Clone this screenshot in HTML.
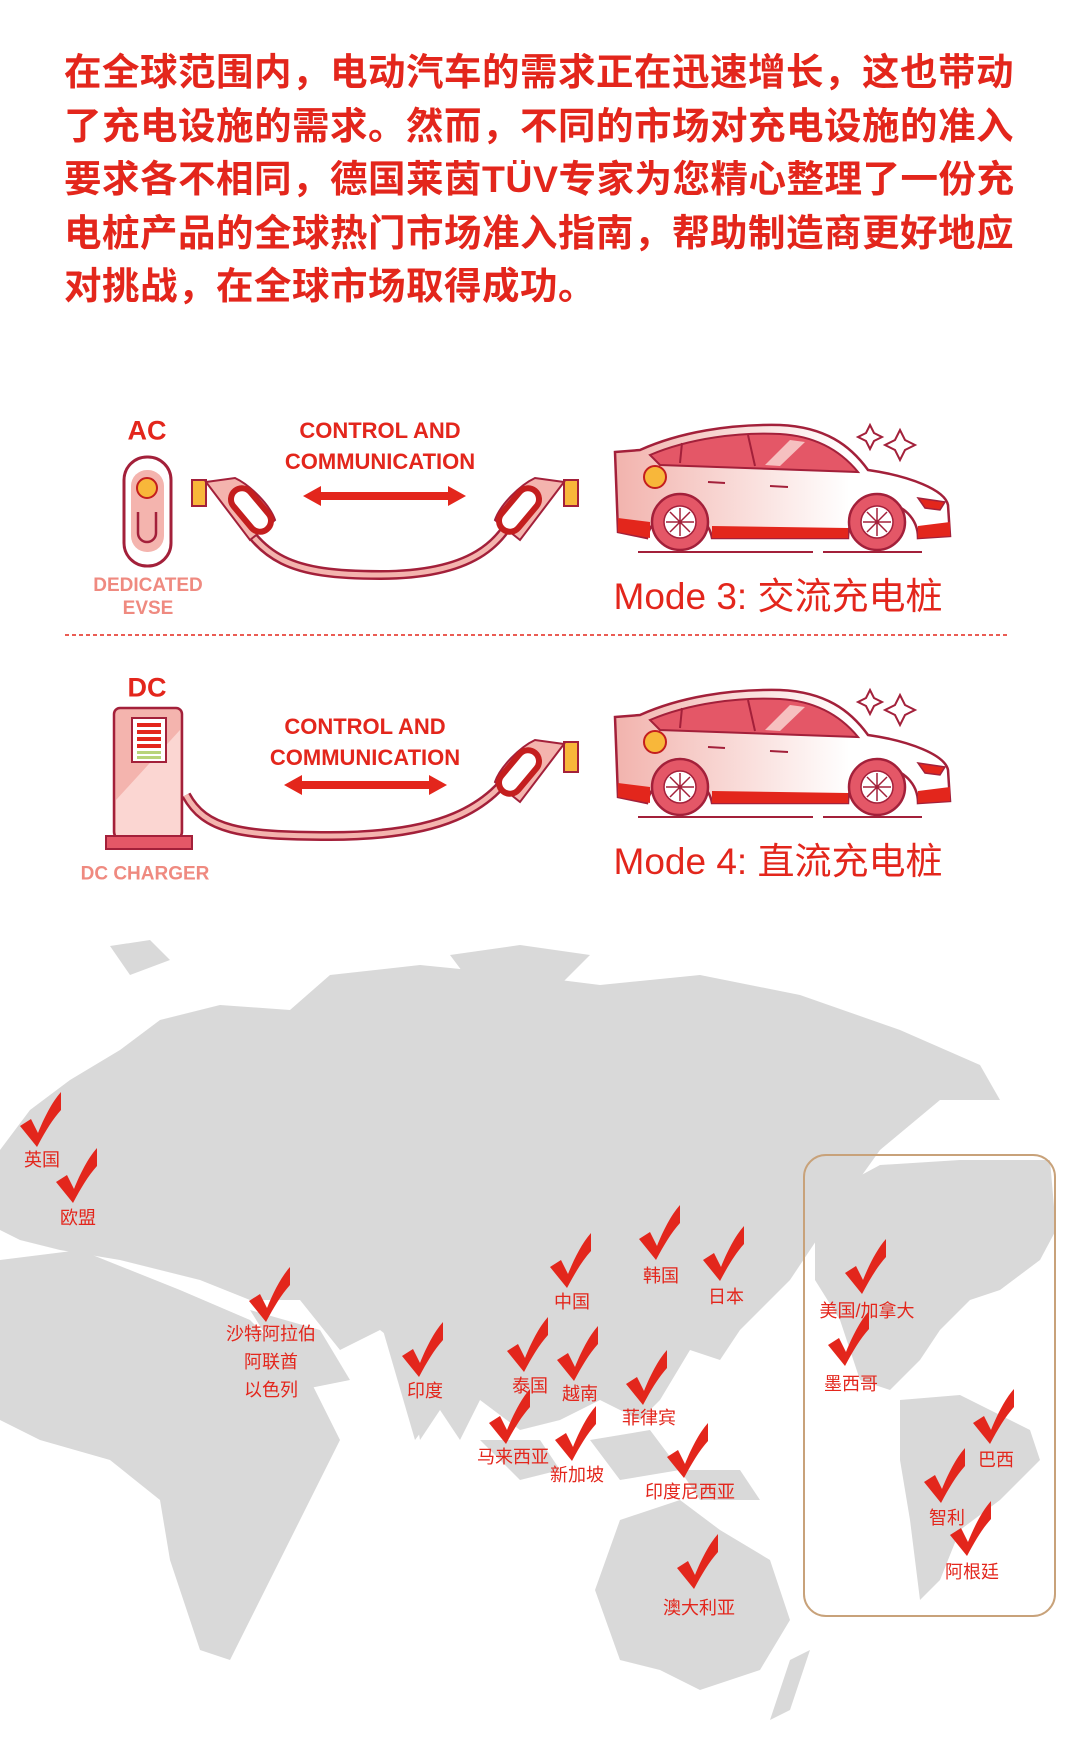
<!DOCTYPE html>
<html><head><meta charset="utf-8"><style>
body{margin:0;background:#fff;}
#c{position:relative;width:1080px;height:1751px;overflow:hidden;font-family:"Liberation Sans","Noto Sans CJK SC",sans-serif;}
.intro{position:absolute;left:64px;top:46px;width:960px;font-size:37.5px;line-height:53.5px;font-weight:bold;color:#e3261c;font-family:"Liberation Sans","Noto Sans CJK SC",sans-serif;letter-spacing:0.5px;}
.t{position:absolute;transform:translate(-50%,-50%);white-space:nowrap;}
.big{font-weight:bold;color:#e3261c;font-size:27px;}
.cc{font-weight:900;color:#e3261c;font-size:22px;line-height:31px;text-align:center;}
.sub{font-weight:bold;color:#ef8a80;font-size:19px;line-height:23px;text-align:center;}
.mode{color:#e3261c;font-size:37px;}
.lb{color:#e3261c;font-size:18px;line-height:28px;text-align:center;}
</style></head><body><div id="c">
<div class="intro">在全球范围内，电动汽车的需求正在迅速增长，这也带动了充电设施的需求。然而，不同的市场对充电设施的准入要求各不相同，德国莱茵TÜV专家为您精心整理了一份充电桩产品的全球热门市场准入指南，帮助制造商更好地应对挑战，在全球市场取得成功。</div>

<svg width="1080" height="1751" style="position:absolute;left:0;top:0">
<defs>
<linearGradient id="g1" x1="0" x2="1"><stop offset="0" stop-color="#f2b3ad"/><stop offset="0.7" stop-color="#fff"/></linearGradient>
<g id="car">
 <path d="M15,42 L40,40 C80,22 130,14 180,15 C225,17 250,35 268,60 C310,66 345,80 348,95 L350,126 L318,128 A33,33 0 0 0 248,128 L112,128 A33,33 0 0 0 47,128 L18,122 Z" fill="url(#g1)" stroke="#a3203a" stroke-width="2.5"/>
 <path d="M18,108 L50,112 L50,128 L18,122Z M112,116 L248,118 L248,128 L112,128Z M318,116 L350,112 L350,126 L318,128Z" fill="#e3261c"/>
 <path d="M50,45 C90,28 140,22 180,24 C215,26 240,40 258,62 L60,55 Z" fill="#e45767" stroke="#a3203a" stroke-width="2"/>
 <path d="M82,33 L80,53 M148,25 L155,56" stroke="#a3203a" stroke-width="2"/>
 <path d="M165,55 L190,30 L205,32 L180,56Z" fill="#f6c0c0"/>
 <path d="M108,72 L125,73 M170,76 L188,77" stroke="#a3203a" stroke-width="2"/>
 <circle cx="55" cy="67" r="11" fill="#f8b73a" stroke="#c41e1e" stroke-width="2"/>
 <path d="M318,88 L345,92 L340,100 L325,98Z" fill="#e3261c" stroke="#a3203a" stroke-width="1.5"/>
 <g stroke="#a3203a" stroke-width="2.5" fill="#e45767"><circle cx="80" cy="112" r="28"/><circle cx="277" cy="112" r="28"/></g>
 <g fill="#fff" stroke="#a3203a" stroke-width="1.5"><circle cx="80" cy="112" r="16"/><circle cx="277" cy="112" r="16"/></g>
 <g stroke="#a3203a" stroke-width="1.5"><path d="M66,112 H94 M80,98 V126 M70,102 L90,122 M90,102 L70,122"/><path d="M263,112 H291 M277,98 V126 M267,102 L287,122 M287,102 L267,122"/></g>
 <path d="M38,142 H213 M223,142 H322" stroke="#a3203a" stroke-width="2"/>
 <path d="M270,15 l4,8 8,4 -8,4 -4,8 -4,-8 -8,-4 8,-4Z M300,20 l5,10 10,5 -10,5 -5,10 -5,-10 -10,-5 10,-5Z" fill="#fff" stroke="#a3203a" stroke-width="2"/>
</g>
<g id="arrow"><path d="M0,0 L18,-10 L18,-4 L145,-4 L145,-10 L163,0 L145,10 L145,4 L18,4 L18,10Z" fill="#e3261c"/></g>
<g id="chk"><path d="M-19,-6 L-8,-13 L-1,1 C5,-14 13,-30 22,-40 L22,-22 C13,-12 6,0 -2,15 Z" fill="#e3261c"/></g>
</defs>
<rect x="124" y="457" width="47" height="109" rx="23" fill="#fff" stroke="#a3203a" stroke-width="3"/>
<rect x="131" y="470" width="33" height="82" rx="16" fill="#f4b4ae"/>
<circle cx="147" cy="488" r="10" fill="#f8b73a" stroke="#c41e1e" stroke-width="2"/>
<path d="M138,512 V533 A9,9 0 0 0 156,533 V512" fill="none" stroke="#a3203a" stroke-width="2.5"/>
<path d="M230,500 C260,560 290,575 380,575 C470,575 505,545 520,500" fill="none" stroke="#a3203a" stroke-width="10"/>
<path d="M230,500 C260,560 290,575 380,575 C470,575 505,545 520,500" fill="none" stroke="#f4b4ae" stroke-width="5"/>
<rect x="192" y="480" width="14" height="26" fill="#f8b73a" stroke="#a3203a" stroke-width="2"/>
<path d="M206,482 L235,478 C250,485 270,505 275,520 L250,540 Z" fill="#f4b4ae" stroke="#a3203a" stroke-width="2"/>
<rect x="240" y="485" width="22" height="50" rx="11" transform="rotate(-40 251 510)" fill="#fff" stroke="#c41e1e" stroke-width="6"/>
<rect x="564" y="480" width="14" height="26" fill="#f8b73a" stroke="#a3203a" stroke-width="2"/>
<path d="M564,482 L535,478 C520,485 500,505 495,520 L520,540 Z" fill="#f4b4ae" stroke="#a3203a" stroke-width="2"/>
<rect x="508" y="485" width="22" height="50" rx="11" transform="rotate(40 519 510)" fill="#fff" stroke="#c41e1e" stroke-width="6"/>
<use href="#arrow" x="303" y="496"/>
<use href="#car" x="600" y="410"/>
<line x1="65" y1="635" x2="1008" y2="635" stroke="#e3261c" stroke-width="1.5" stroke-dasharray="4,3"/>
<rect x="114" y="708" width="68" height="130" rx="6" fill="#f4b4ae" stroke="#a3203a" stroke-width="2.5"/>
<path d="M116,800 L180,730 L180,836 L116,836Z" fill="#fbd6d2"/>
<rect x="132" y="718" width="34" height="44" fill="#fff" stroke="#a3203a" stroke-width="2"/>
<g fill="#e3261c"><rect x="137" y="723" width="24" height="4"/><rect x="137" y="730" width="24" height="4"/><rect x="137" y="737" width="24" height="4"/><rect x="137" y="744" width="24" height="4"/></g>
<g fill="#b8d47a"><rect x="137" y="751" width="24" height="3"/><rect x="137" y="756" width="24" height="3"/></g>
<rect x="106" y="836" width="86" height="13" fill="#e45767" stroke="#a3203a" stroke-width="2"/>
<path d="M186,795 C205,830 240,836 330,836 C440,836 490,810 520,760" fill="none" stroke="#a3203a" stroke-width="10"/>
<path d="M186,795 C205,830 240,836 330,836 C440,836 490,810 520,760" fill="none" stroke="#f4b4ae" stroke-width="5"/>
<rect x="564" y="742" width="14" height="30" fill="#f8b73a" stroke="#a3203a" stroke-width="2"/>
<path d="M564,744 L535,740 C520,747 500,767 495,782 L520,802 Z" fill="#f4b4ae" stroke="#a3203a" stroke-width="2"/>
<rect x="508" y="747" width="22" height="50" rx="11" transform="rotate(40 519 772)" fill="#fff" stroke="#c41e1e" stroke-width="6"/>
<use href="#arrow" x="284" y="785"/>
<use href="#car" x="600" y="675"/>
<g fill="#d9d9d9">
<path d="M0,1150 L30,1110 L70,1080 L120,1050 L160,1020 L220,1005 L290,1010 L330,975 L420,965 L520,975 L600,985 L700,975 L800,995 L900,1030 L980,1065 L1000,1100 L940,1100 L880,1150 L830,1220 L790,1280 L740,1330 L720,1360 L690,1350 L660,1400 L640,1420 L600,1400 L560,1420 L520,1430 L480,1400 L460,1440 L440,1410 L420,1440 L405,1350 L380,1330 L340,1350 L300,1300 L250,1300 L200,1280 L120,1260 L60,1250 L20,1240 L0,1230Z"/>
<path d="M0,1260 L80,1250 L180,1290 L250,1320 L310,1380 L340,1440 L300,1520 L260,1600 L230,1660 L200,1650 L170,1560 L160,1500 L110,1460 L40,1440 L0,1420Z"/>
<path d="M250,1310 L320,1330 L350,1380 L300,1390 Z"/>
<path d="M380,1320 L460,1320 L430,1420 L415,1440 Z"/>
<path d="M110,946 L150,940 L170,960 L130,975 Z M450,955 L520,945 L590,955 L560,985 L480,995 Z"/>
<path d="M480,1440 L540,1440 L560,1470 L520,1480 Z M590,1440 L650,1430 L680,1470 L620,1480 Z M680,1470 L740,1470 L760,1500 L700,1500Z"/>
<path d="M620,1520 L680,1500 L720,1530 L770,1560 L790,1620 L760,1670 L700,1690 L660,1670 L620,1660 L595,1590 Z"/>
<path d="M790,1660 L810,1650 L790,1710 L770,1720Z"/>
<path d="M815,1200 L880,1165 L960,1160 L1050,1160 L1056,1230 L1040,1260 L1000,1290 L970,1300 L940,1330 L920,1360 L890,1390 L860,1380 L840,1320 L815,1280Z"/>
<path d="M900,1400 L960,1395 L1030,1430 L1040,1460 L1000,1500 L960,1530 L940,1580 L920,1600 L910,1520 L900,1460Z"/>
</g>
<rect x="804" y="1155" width="251" height="461" rx="22" fill="none" stroke="#c8a27a" stroke-width="2"/>
<use href="#chk" x="39" y="1132"/><use href="#chk" x="75" y="1188"/><use href="#chk" x="268" y="1307"/>
<use href="#chk" x="421" y="1362"/><use href="#chk" x="569" y="1273"/><use href="#chk" x="658" y="1245"/>
<use href="#chk" x="722" y="1266"/><use href="#chk" x="526" y="1357"/><use href="#chk" x="576" y="1366"/>
<use href="#chk" x="645" y="1390"/><use href="#chk" x="508" y="1429"/><use href="#chk" x="574" y="1446"/>
<use href="#chk" x="686" y="1463"/><use href="#chk" x="696" y="1574"/><use href="#chk" x="864" y="1279"/>
<use href="#chk" x="847" y="1351"/><use href="#chk" x="992" y="1429"/><use href="#chk" x="943" y="1488"/><use href="#chk" x="969" y="1541"/>
</svg>

<div class="t big" style="left:147px;top:431px">AC</div>
<div class="t cc" style="left:380px;top:446px">CONTROL AND<br>COMMUNICATION</div>
<div class="t sub" style="left:148px;top:597px">DEDICATED<br>EVSE</div>
<div class="t mode" style="left:778px;top:593px">Mode 3: 交流充电桩</div>
<div class="t big" style="left:147px;top:688px">DC</div>
<div class="t cc" style="left:365px;top:742px">CONTROL AND<br>COMMUNICATION</div>
<div class="t sub" style="left:145px;top:874px">DC CHARGER</div>
<div class="t mode" style="left:778px;top:858px">Mode 4: 直流充电桩</div>

<div class="t lb" style="left:42px;top:1160px">英国</div>
<div class="t lb" style="left:78px;top:1218px">欧盟</div>
<div class="t lb" style="left:271px;top:1362px">沙特阿拉伯<br>阿联酋<br>以色列</div>
<div class="t lb" style="left:425px;top:1391px">印度</div>
<div class="t lb" style="left:572px;top:1302px">中国</div>
<div class="t lb" style="left:661px;top:1276px">韩国</div>
<div class="t lb" style="left:726px;top:1297px">日本</div>
<div class="t lb" style="left:530px;top:1386px">泰国</div>
<div class="t lb" style="left:580px;top:1394px">越南</div>
<div class="t lb" style="left:649px;top:1418px">菲律宾</div>
<div class="t lb" style="left:513px;top:1457px">马来西亚</div>
<div class="t lb" style="left:577px;top:1475px">新加坡</div>
<div class="t lb" style="left:690px;top:1492px">印度尼西亚</div>
<div class="t lb" style="left:699px;top:1608px">澳大利亚</div>
<div class="t lb" style="left:867px;top:1311px">美国/加拿大</div>
<div class="t lb" style="left:851px;top:1384px">墨西哥</div>
<div class="t lb" style="left:996px;top:1460px">巴西</div>
<div class="t lb" style="left:947px;top:1518px">智利</div>
<div class="t lb" style="left:972px;top:1572px">阿根廷</div>
</div></body></html>
